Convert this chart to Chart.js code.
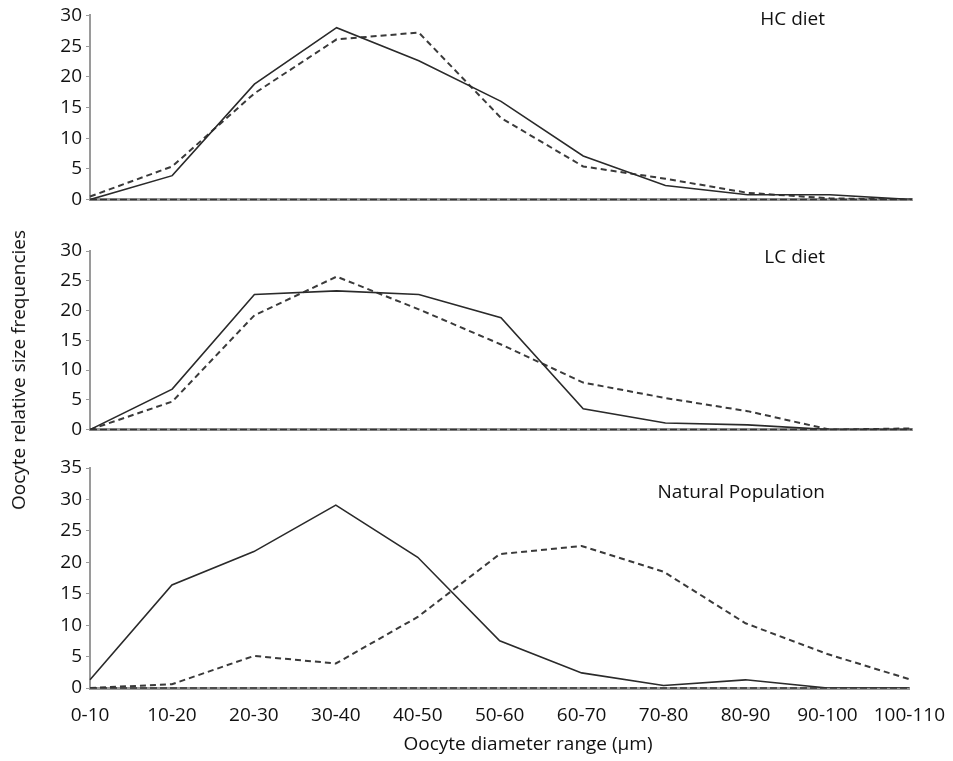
<!DOCTYPE html>
<html>
<head>
<meta charset="utf-8">
<script src="https://cdn.jsdelivr.net/npm/chart.js@4"></script>
<style>
  body { margin: 0; background: #fff; }
  #wrap { position: relative; width: 953px; height: 761px; font-family: "Open Sans", sans-serif; }
  .panel { position: absolute; left: 0; width: 953px; }
  #ytitle {
    position: absolute; left: 18px; top: 370px;
    transform: translate(-50%, -50%) rotate(-90deg);
    white-space: nowrap; font-size: 19px; color: #111;
  }
</style>
</head>
<body>
<div id="wrap">
  <div class="panel" style="top:0px;height:215px"><canvas id="hc"></canvas></div>
  <div class="panel" style="top:230px;height:215px"><canvas id="lc"></canvas></div>
  <div class="panel" style="top:450px;height:311px"><canvas id="np"></canvas></div>
  <div id="ytitle">Oocyte relative size frequencies</div>
</div>
<script>
// size classes (µm)
let sizeClasses = ["0-10", "10-20", "20-30", "30-40", "40-50", "50-60",
  "60-70", "70-80", "80-90", "90-100", "100-110"];

// HC diet
let hcSolid = [0, 3.9, 18.8, 28.0, 22.6, 16.0, 7.1, 2.3, 0.8, 0.8, 0];
let hcDashed = [0.5, 5.4, 17.3, 26.1, 27.2, 13.3, 5.4, 3.4, 1.1, 0.2, 0];

// LC diet
let lcSolid = [0, 6.8, 22.7, 23.3, 22.7, 18.8, 3.5, 1.1, 0.8, 0, 0];
let lcDashed = [0, 4.7, 19.2, 25.7, 20.2, 14.3, 7.9, 5.3, 3.1, 0, 0.2];

// natural population
let npSolid = [1.3, 16.4, 21.7, 29.1, 20.8, 7.5, 2.4, 0.4, 1.3, 0, 0];
let npDashed = [0, 0.6, 5.1, 3.9, 11.3, 21.3, 22.6, 18.5, 10.3, 5.4, 1.4];

let tickFont = { family: "Open Sans", size: 19 };

// draws the panel name and the dashed zero line
let panelDecor = {
  id: "panelDecor",
  afterDraw(chart, args, opts) {
    let ctx = chart.ctx;
    let area = chart.chartArea;
    let y0 = chart.scales.y.getPixelForValue(0);
    ctx.save();
    ctx.strokeStyle = "#333";
    ctx.lineWidth = 1.5;
    ctx.setLineDash([7, 3]);
    ctx.beginPath();
    ctx.moveTo(area.left, y0);
    ctx.lineTo(area.right, y0);
    ctx.stroke();
    ctx.setLineDash([]);
    ctx.fillStyle = "#111";
    ctx.font = "19px 'Open Sans'";
    ctx.textAlign = "right";
    ctx.textBaseline = "middle";
    ctx.fillText(opts.name, opts.nameX, opts.nameY);
    if (opts.xTitle) {
      ctx.textAlign = "center";
      ctx.fillText(opts.xTitle, 528, chart.height - 16);
    }
    ctx.restore();
  }
};

function makePanel(canvasId, solid, dashed, yMax, padTop, xHeight, showLabels, decor) {
  let ctx = document.getElementById(canvasId).getContext("2d");
  return new Chart(ctx, {
    type: "line",
    data: {
      labels: sizeClasses,
      datasets: [
        {
          data: solid,
          borderColor: "#2a2a2a",
          borderWidth: 1.6,
          pointRadius: 0,
          tension: 0,
        },
        {
          data: dashed,
          borderColor: "#3a3a3a",
          borderWidth: 2,
          borderDash: [6, 4],
          pointRadius: 0,
          tension: 0,
        },
      ],
    },
    options: {
      responsive: true,
      maintainAspectRatio: false,
      animation: false,
      events: [],
      layout: { padding: { top: padTop, right: 41, bottom: 0, left: 0 } },
      plugins: {
        legend: { display: false },
        tooltip: { enabled: false },
        panelDecor: decor,
      },
      scales: {
        x: {
          offset: false,
          grid: { display: false },
          border: { color: "#9a9a9a", width: 3 },
          ticks: {
            display: showLabels,
            color: "#111",
            font: tickFont,
            maxRotation: 0,
            autoSkip: false,
            padding: 8,
          },
          afterFit(scale) { scale.height = xHeight; },
        },
        y: {
          min: 0,
          max: yMax,
          grid: { drawOnChartArea: false, drawTicks: true, tickLength: 4, color: "#9a9a9a" },
          border: { color: "#9a9a9a", width: 2 },
          ticks: { stepSize: 5, color: "#111", font: tickFont, padding: 4 },
          afterFit(scale) { scale.width = 90; },
        },
      },
    },
    plugins: [panelDecor],
  });
}

makePanel("hc", hcSolid, hcDashed, 30, 15, 15, false,
  { name: "HC diet", nameX: 825, nameY: 20 });
makePanel("lc", lcSolid, lcDashed, 30, 21, 11, false,
  { name: "LC diet", nameX: 825, nameY: 28 });
makePanel("np", npSolid, npDashed, 35, 18, 73, true,
  { name: "Natural Population", nameX: 825, nameY: 43, xTitle: "Oocyte diameter range (µm)" });
</script>
</body>
</html>
